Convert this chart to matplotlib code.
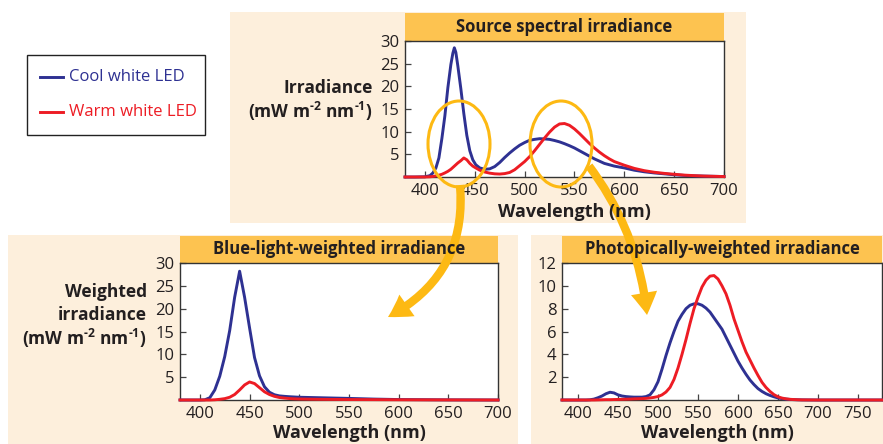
import matplotlib
matplotlib.use("Agg")
import matplotlib.pyplot as plt
from matplotlib.patches import Rectangle, Ellipse, FancyArrowPatch
from matplotlib.lines import Line2D

# ---------------------------------------------------------------- data
series_names = ["Cool white LED", "Warm white LED"]

# Source spectral irradiance (mW m-2 nm-1)
src_wl = [380, 390, 400, 405, 408, 411, 414, 417, 420, 423, 426, 428,
          429.5, 431, 433, 436, 439, 442, 445, 448, 451,
          455, 460, 465, 470, 475, 480, 485, 490, 495, 500,
          505, 510, 515, 520, 525, 530, 535, 540, 545, 550,
          555, 560, 565, 570, 575, 580, 585, 590, 595, 600,
          610, 620, 630, 640, 650, 660, 670, 680, 690, 700]
src_cool = [0, 0, 0.05, 0.3, 0.9, 2.0, 4.2, 8.5, 13.5, 19.7, 24.8, 27.3,
            28.5, 27.5, 24.5, 19.5, 14.0, 9.2, 5.8, 3.8, 2.7,
            2.0, 1.7, 1.8, 2.3, 3.2, 4.3, 5.3, 6.2, 7.0, 7.6,
            8.1, 8.3, 8.45, 8.4, 8.3, 8.05, 7.75, 7.35, 6.9, 6.4,
            5.8, 5.2, 4.6, 4.0, 3.5, 3.0, 2.7, 2.4, 2.2, 2.0,
            1.5, 1.15, 0.9, 0.7, 0.5, 0.35, 0.25, 0.2, 0.15, 0.1]
src_warm = [0, 0, 0, 0.05, 0.12, 0.25, 0.4, 0.6, 0.9, 1.25, 1.7, 2.1,
            2.4, 2.7, 3.1, 3.6, 4.2, 3.8, 3.0, 2.4, 2.0,
            1.5, 1.1, 0.85, 0.7, 0.65, 0.75, 1.0, 1.6, 2.5, 3.4,
            4.5, 5.8, 7.2, 8.6, 9.9, 11.0, 11.7, 11.8, 11.4, 10.6,
            9.6, 8.5, 7.4, 6.4, 5.5, 4.7, 4.0, 3.4, 3.0, 2.6,
            1.9, 1.4, 1.05, 0.8, 0.6, 0.42, 0.3, 0.2, 0.15, 0.1]

# Blue-light-weighted irradiance
blue_wl = [380, 390, 400,
           405, 410, 415, 420, 425, 430, 435, 440, 445, 450,
           455, 460, 465, 470, 475, 480, 485, 490, 495, 500,
           510, 520, 530, 540, 550, 575, 600, 650, 700]
blue_cool = [0, 0, 0,
             0.05, 0.5, 2.2, 5.2, 9.5, 15.2, 22.5, 28.2, 22.5, 15.8,
             9.3, 5.3, 2.9, 1.7, 1.15, 0.9, 0.8, 0.72, 0.66, 0.6,
             0.55, 0.5, 0.45, 0.4, 0.35, 0.2, 0.1, 0.03, 0]
blue_warm = [0, 0, 0,
             0, 0, 0.05, 0.15, 0.3, 0.6, 1.2, 2.2, 3.3, 3.95,
             3.6, 2.7, 1.8, 1.2, 0.8, 0.55, 0.42, 0.32, 0.26, 0.22,
             0.18, 0.15, 0.13, 0.12, 0.1, 0.08, 0.05, 0.02, 0]

# Photopically-weighted irradiance
phot_wl = [380, 400, 410,
           415, 420, 425, 430, 435, 440, 445, 450, 455, 460,
           465, 470, 475, 480, 485, 490, 495, 500, 505, 510,
           515, 520, 525, 530, 535, 540, 545, 550, 555, 560,
           565, 570, 575, 580, 585, 590, 595, 600, 605, 610,
           615, 620, 625, 630, 635, 640, 645, 650, 655, 660,
           665, 670, 675, 680,
           700, 750, 780]
phot_cool = [0, 0, 0,
             0.02, 0.08, 0.2, 0.35, 0.55, 0.68, 0.62, 0.45, 0.35, 0.3,
             0.27, 0.25, 0.25, 0.25, 0.3, 0.45, 0.9, 1.6, 2.7, 3.9,
             5.0, 6.0, 6.9, 7.5, 8.0, 8.3, 8.42, 8.43, 8.3, 8.05,
             7.7, 7.2, 6.7, 6.2, 5.5, 4.8, 4.1, 3.4, 2.8, 2.25,
             1.75, 1.35, 1.0, 0.75, 0.55, 0.4, 0.28, 0.18, 0.12, 0.08,
             0.05, 0.03, 0.02, 0.01,
             0, 0, 0]
phot_warm = [0, 0, 0,
             0, 0, 0.01, 0.02, 0.03, 0.03, 0.04, 0.05, 0.06, 0.07,
             0.08, 0.1, 0.11, 0.12, 0.14, 0.18, 0.23, 0.3, 0.45, 0.7,
             1.1, 1.8, 2.8, 4.0, 5.3, 6.7, 8.0, 9.0, 9.9, 10.5,
             10.85, 10.9, 10.6, 10.0, 9.3, 8.3, 7.1, 6.1, 5.1, 4.2,
             3.5, 2.8, 2.15, 1.55, 1.1, 0.75, 0.47, 0.28, 0.17, 0.1,
             0.06, 0.04, 0.02, 0.01,
             0, 0, 0]

panel_titles = ["Source spectral irradiance",
                "Blue-light-weighted irradiance",
                "Photopically-weighted irradiance"]
x_label = "Wavelength (nm)"
src_xticks = [400, 450, 500, 550, 600, 650, 700]
src_yticks = [5, 10, 15, 20, 25, 30]
phot_xticks = [400, 450, 500, 550, 600, 650, 700, 750]
phot_yticks = [2, 4, 6, 8, 10, 12]

# ---------------------------------------------------------------- style
plt.rcParams["font.family"] = ["Open Sans", "DejaVu Sans"]
plt.rcParams["mathtext.fontset"] = "custom"
plt.rcParams["mathtext.rm"] = "Open Sans:bold"
plt.rcParams["mathtext.bf"] = "Open Sans:bold"

COOL = "#2e3192"
WARM = "#ed1c24"
BEIGE = "#fdefdc"
BAR = "#fdc350"
GOLD = "#fdb913"
INK = "#231f20"
LW = 2.1

W, H = 883, 444
fig = plt.figure(figsize=(W / 100, H / 100), dpi=100)
fig.patch.set_facecolor("white")


def fx(x):
    return x / W


def fy(y):
    return 1 - y / H


def box(l, t, r, b, color, z=-2):
    fig.add_artist(Rectangle((fx(l), fy(b)), fx(r) - fx(l), fy(t) - fy(b),
                             transform=fig.transFigure, facecolor=color,
                             edgecolor="none", zorder=z))


def panel(l, t, r, b, bar_top, title, wl, cool, warm, xlim, ylim,
          xticks, yticks, xlabel_x, xlabel_y):
    box(l, bar_top, r, t, BAR, z=-1)
    fig.text(fx((l + r) / 2), fy((bar_top + t) / 2), title, ha="center",
             va="center", fontsize=12, fontweight="bold", color=INK, zorder=9)
    ax = fig.add_axes([fx(l), fy(b), fx(r) - fx(l), fy(t) - fy(b)])
    ax.set_facecolor("white")
    ax.plot(wl, cool, color=COOL, lw=LW, clip_on=False, zorder=3)
    ax.plot(wl, warm, color=WARM, lw=LW, clip_on=False, zorder=4)
    ax.set_xlim(*xlim)
    ax.set_ylim(*ylim)
    ax.set_xticks(xticks)
    ax.set_yticks(yticks)
    ax.tick_params(direction="in", length=4, width=0.9, colors="#444444",
                   labelcolor=INK, labelsize=12)
    ax.tick_params(axis="x", pad=4)
    ax.tick_params(axis="y", pad=4)
    for s in ax.spines.values():
        s.set_color("#333333")
        s.set_linewidth(1.0)
    fig.text(fx(xlabel_x), fy(xlabel_y), x_label, ha="center", va="center",
             fontsize=13, fontweight="bold", color=INK, zorder=9)
    return ax


# background panels
box(230, 12, 746, 223, BEIGE)
box(8, 235, 518, 444, BEIGE)
box(531, 235, 883, 444, BEIGE)

ax_src = panel(405, 41, 724, 177, 13, panel_titles[0], src_wl, src_cool,
               src_warm, (380, 700), (0, 30), src_xticks, src_yticks, 574, 212)
ax_blue = panel(180, 263, 498, 400, 236, panel_titles[1], blue_wl, blue_cool,
                blue_warm, (380, 700), (0, 30), src_xticks, src_yticks, 349, 433)
ax_phot = panel(562, 263, 882, 400, 236, panel_titles[2], phot_wl, phot_cool,
                phot_warm, (380, 780), (0, 12), phot_xticks, phot_yticks, 717, 433)

# y-axis titles
unit = r"(mW m$^{\text{-2}}$ nm$^{\text{-1}}$)"
fig.text(fx(373), fy(88), "Irradiance", ha="right", va="center",
         fontsize=12.5, fontweight="bold", color=INK)
fig.text(fx(373), fy(111), unit, ha="right", va="center",
         fontsize=12.5, fontweight="bold", color=INK)
for txt, y in [("Weighted", 292), ("irradiance", 315), (unit, 338)]:
    fig.text(fx(147), fy(y), txt, ha="right", va="center",
             fontsize=12.5, fontweight="bold", color=INK)

# legend
fig.add_artist(Rectangle((fx(27), fy(135)), fx(205) - fx(27), fy(55) - fy(135),
                         transform=fig.transFigure, facecolor="white",
                         edgecolor="#222222", lw=1.0, zorder=2))
for name, color, y in [(series_names[0], COOL, 77), (series_names[1], WARM, 112)]:
    fig.add_artist(Line2D([fx(40), fx(63)], [fy(y), fy(y)],
                          transform=fig.transFigure, color=color, lw=LW,
                          zorder=3))
    fig.text(fx(69), fy(y), name, ha="left", va="center", fontsize=12,
             color=color, zorder=3)

# highlight ellipses around the blue and the green-yellow parts of the spectrum
for cx in (459, 561):
    fig.add_artist(Ellipse((fx(cx), fy(144)), fx(62), 86 / H,
                           transform=fig.transFigure, facecolor="none",
                           edgecolor=GOLD, lw=2.2, zorder=6))

# curved arrows to the weighted panels
arrow_style = "simple,head_width=19,head_length=16,tail_width=6"
for start, end, rad in [((460, 185), (388, 317), -0.33),
                        ((589, 166), (647, 315), -0.14)]:
    fig.add_artist(FancyArrowPatch((fx(start[0]), fy(start[1])),
                                   (fx(end[0]), fy(end[1])),
                                   transform=fig.transFigure,
                                   connectionstyle=f"arc3,rad={rad}",
                                   arrowstyle=arrow_style, color=GOLD,
                                   shrinkA=0, shrinkB=0, lw=0, zorder=7))

fig.savefig("out.png", dpi=100)
